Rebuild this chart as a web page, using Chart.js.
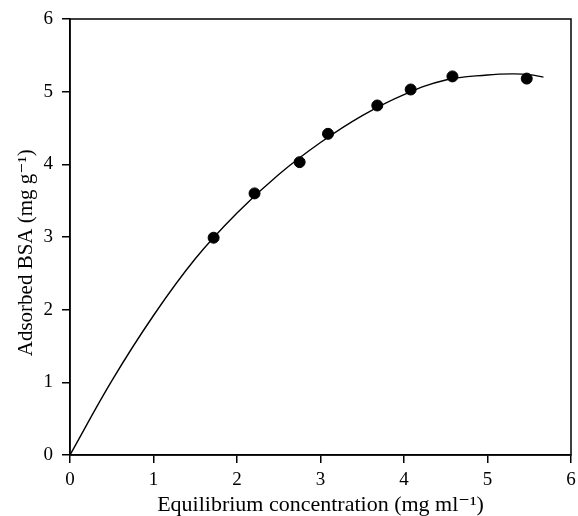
<!DOCTYPE html>
<html>
<head>
<meta charset="utf-8">
<script src="https://cdn.jsdelivr.net/npm/chart.js@4/dist/chart.umd.min.js"></script>
<style>
html,body{margin:0;padding:0;background:#fff;}
#wrap{width:578px;height:516px;}
</style>
</head>
<body>
<div id="wrap"><canvas id="c" width="578" height="516"></canvas></div>
<script>
const pointX = [1.72, 2.21, 2.75, 3.09, 3.68, 4.08, 4.58, 5.47];
const pointY = [2.99, 3.60, 4.03, 4.42, 4.81, 5.03, 5.21, 5.18];
const curveX = [0, 0.5, 1, 1.5, 2, 2.5, 3, 3.5, 4, 4.5, 5, 5.3, 5.5, 5.67];
const curveY = [0, 1.02, 1.92, 2.70, 3.33, 3.86, 4.30, 4.67, 4.96, 5.16, 5.23, 5.245, 5.235, 5.20];
const xTicks = [0, 1, 2, 3, 4, 5, 6];
const yTicks = [0, 1, 2, 3, 4, 5, 6];
const xTitle = 'Equilibrium concentration (mg ml\u207B\u00B9)';
const yTitle = 'Adsorbed BSA (mg g\u207B\u00B9)\u2002\u2002\u2002';

const FONT = "'Liberation Serif', 'DejaVu Serif', serif";

const boxPlugin = {
  id: 'box',
  afterDraw(chart) {
    const a = chart.chartArea, ctx = chart.ctx;
    ctx.save();
    ctx.strokeStyle = '#000';
    ctx.lineWidth = 1.5;
    ctx.strokeRect(a.left, a.top, a.right - a.left, a.bottom - a.top);
    ctx.restore();
  }
};

new Chart(document.getElementById('c'), {
  type: 'scatter',
  data: {
    datasets: [
      {
        type: 'line',
        data: curveX.map((x, i) => ({x, y: curveY[i]})),
        borderColor: '#000',
        borderWidth: 1.4,
        pointRadius: 0,
        fill: false,
        tension: 0.4
      },
      {
        data: pointX.map((x, i) => ({x, y: pointY[i]})),
        backgroundColor: '#000',
        borderColor: '#000',
        pointRadius: 5.5,
        pointHoverRadius: 5.5
      }
    ]
  },
  options: {
    responsive: false,
    animation: false,
    events: [],
    layout: {padding: {top: 19, right: 7, left: 0, bottom: 0}},
    plugins: {legend: {display: false}, tooltip: {enabled: false}},
    scales: {
      x: {
        type: 'linear', min: 0, max: 6,
        afterBuildTicks(s) { s.ticks = xTicks.map(v => ({value: v})); },
        afterFit(s) { s.height = 61; s.paddingLeft = 0; s.paddingRight = 0; },
        grid: {drawOnChartArea: false, drawTicks: true, tickLength: 8, color: '#000', lineWidth: 1.5},
        border: {display: true, color: '#000', width: 1.5},
        ticks: {color: '#000', font: {family: FONT, size: 19}, padding: 6, maxRotation: 0},
        title: {display: true, text: xTitle, color: '#000', font: {family: FONT, size: 22, lineHeight: 1}, padding: {top: 0, bottom: 0}}
      },
      y: {
        type: 'linear', min: 0, max: 6,
        afterBuildTicks(s) { s.ticks = yTicks.map(v => ({value: v})); },
        afterFit(s) { s.width = 70; s.paddingTop = 0; s.paddingBottom = 0; },
        grid: {drawOnChartArea: false, drawTicks: true, tickLength: 8, color: '#000', lineWidth: 1.5},
        border: {display: true, color: '#000', width: 1.5},
        ticks: {color: '#000', font: {family: FONT, size: 19}, padding: 9},
        title: {display: true, text: yTitle, color: '#000', font: {family: FONT, size: 21, lineHeight: 1}, padding: {top: 16, bottom: 0}}
      }
    }
  },
  plugins: [boxPlugin]
});
</script>
</body>
</html>
